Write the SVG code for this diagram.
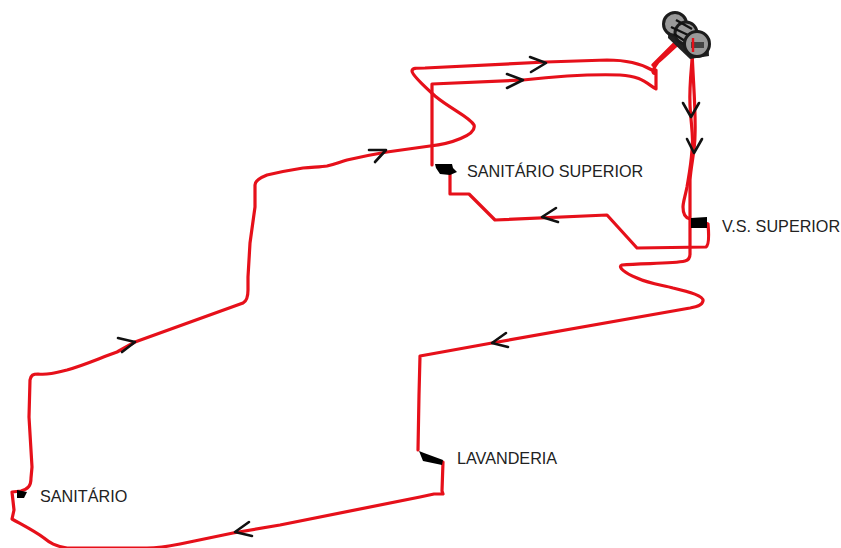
<svg xmlns="http://www.w3.org/2000/svg" width="841" height="548" viewBox="0 0 841 548">
<style>
.r{fill:none;stroke:#e6101a;stroke-width:3.2;stroke-linecap:round;stroke-linejoin:round}
.a{fill:none;stroke:#111;stroke-width:2.6;stroke-linecap:round;stroke-linejoin:round}
.c{fill:#999;stroke:#1c1c1c;stroke-width:3}
text{font-family:"Liberation Sans",Arial,sans-serif;font-size:16.2px;fill:#222}
</style>
<rect width="841" height="548" fill="#fff"/>
<g id="connectors">
<path class="r" d="M693 47C692 65 689 85 690 105C691 125 694 140 692 150C691 165 689 175 687 187C685 197 683 202 683 207C683 214 685 218 690 219"/>
<path class="r" d="M692 50C693 80 696 110 695 135C695 150 691 165 690 180L690 254C690 258 689 260 685 261C672 264 640 263 622 265C617 267 625 273 637 278C650 284 662 285 673 288C690 292 704 296 703 301C702 306 695 307 690 308L492 343L420 356L419 395L418 450"/>
<path class="r" d="M443 462L442 491L443 494L434 494L420 497L280 525L233 533L180 544C165 547 158 548 147 548L67 548C55 546 50 543 44 538C36 532 30 529 12 519L14 510L12 492L21 491C28 489 31 486 31 478L32 467L29 417L30 380C31 375 33 374 38 374C47 375 55 373 67 370C85 365 100 358 117 352L135 342L243 303C247 301 248 297 248 290L248 277L250 243L255 207L255 185C255 180 262 177 267 175C280 172 290 170 303 168C315 167 322 167 327 166C335 164 340 162 347 160C360 157 375 154 387 152L430 146C450 144 477 135 474 125C470 117 452 110 435 96C425 87 412 75 412 71C412 68 416 68 425 68L546 62L607 60C625 60 640 63 652 70"/>
<path class="r" d="M675 43C668 50 660 58 653 65M677 45C670 51 664 57 658 62C655 66 653 70 653 72C654 75 656 72 656 70L656 89C645 82 640 76 620 75C590 74 550 77 523 80L432 84L432 165"/>
<path class="r" d="M450 174L450 194L469 194L495 220L607 215L637 248L706 247C709 245 709 235 708 224L703 222"/>
</g>
<g id="arrows">
<path class="a" d="M530 57L546 63L531 72"/>
<path class="a" d="M507 74L523 80L507 88"/>
<path class="a" d="M683 103L691 117L699 103"/>
<path class="a" d="M687 139L694 153L702 139"/>
<path class="a" d="M556 208L542 217L558 222"/>
<path class="a" d="M506 333L492 343L508 347"/>
<path class="a" d="M249 522L235 532L252 536"/>
<path class="a" d="M369 150L386 150L375 162"/>
<path class="a" d="M118 338L135 342L122 352"/>
</g>
<g id="tank">
<path d="M669 13L708 36L709 56L690 59L668 38Z" fill="#222"/>
<circle class="c" cx="675" cy="24" r="11.5"/>
<circle class="c" cx="686" cy="33" r="11"/>
<path d="M671 27L688 35M676 20L692 29M674 34L685 41" stroke="#111" stroke-width="2.4" fill="none"/>
<circle class="c" cx="697" cy="44" r="12.5"/>
<path d="M691 42H704V48H691Z" fill="#444"/>
<path d="M693 38L693 52" fill="none" stroke="#e6101a" stroke-width="2.4"/>
</g>
<g id="sanitario-superior">
<path d="M435 164L452 164L453 168L457 172L450 175L440 174L436 168Z" fill="#000"/>
<text x="467" y="177">SANITÁRIO SUPERIOR</text>
</g>
<g id="vs-superior">
<path d="M691 218L707 217L707 228L691 228Z" fill="#000"/>
<text x="722" y="231.500">V.S. SUPERIOR</text>
</g>
<g id="lavanderia">
<path d="M419 451L424 453L443 460L442 465L423 461Z" fill="#000"/>
<text x="457" y="464">LAVANDERIA</text>
</g>
<g id="sanitario">
<path d="M17 490L27 492L24 498L17 498Z" fill="#000"/>
<text x="40" y="502">SANITÁRIO</text>
</g>
</svg>
